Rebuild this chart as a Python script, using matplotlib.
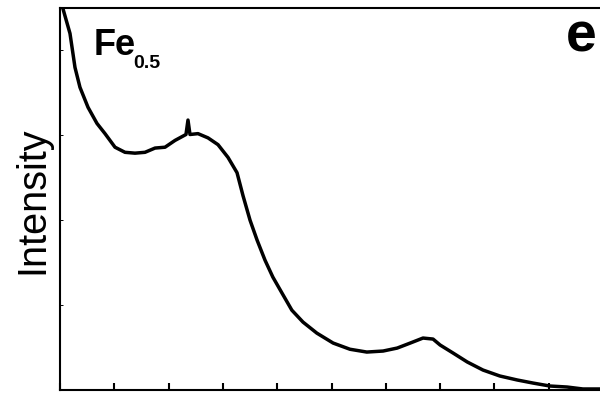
import matplotlib.pyplot as plt

plt.rcParams['font.family'] = ['Liberation Sans', 'DejaVu Sans']

# curve (x: 0..10 tick units, y: 0..4.5)
two_theta = [-0.02, 0.055, 0.184, 0.276, 0.368, 0.516, 0.681, 0.829, 1.013, 1.197,
             1.381, 1.565, 1.750, 1.934, 2.118, 2.320, 2.357, 2.394, 2.541, 2.726,
             2.910, 3.094, 3.26, 3.37, 3.50, 3.63, 3.775, 3.92, 4.09, 4.27,
             4.475, 4.73, 5.03, 5.34, 5.65, 5.95, 6.21, 6.45, 6.685, 6.87,
             7.00, 7.24, 7.50, 7.79, 8.10, 8.42, 8.71, 9.02, 9.34, 9.63, 9.94, 10.1]
intensity = [4.65, 4.49, 4.20, 3.80, 3.565, 3.33, 3.14, 3.02, 2.86, 2.80,
             2.79, 2.80, 2.85, 2.86, 2.94, 3.01, 3.18, 3.01, 3.02, 2.97,
             2.89, 2.74, 2.56, 2.29, 2.00, 1.765, 1.53, 1.33, 1.14, 0.94,
             0.80, 0.67, 0.553, 0.48, 0.447, 0.459, 0.494, 0.553, 0.612, 0.60,
             0.53, 0.435, 0.33, 0.235, 0.165, 0.118, 0.082, 0.047, 0.035, 0.012, 0.012, 0.01]

x_ticks = list(range(0, 11))
y_ticks = [1, 2, 3, 4]

fig = plt.figure(figsize=(6, 3.98), dpi=100)
ax = fig.add_axes([60 / 600, 8 / 398, 543 / 600, 382 / 398])

ax.plot(two_theta, intensity, color='black', lw=2.5)

ax.set_xlim(0, 10)
ax.set_ylim(0, 4.5)
ax.set_xticks(x_ticks)
ax.set_yticks(y_ticks)
ax.set_xticklabels([])
ax.set_yticklabels([])
ax.tick_params(axis='x', direction='in', length=5, width=1.5, top=False)
ax.tick_params(axis='y', direction='in', length=2, width=0.7, right=True)
for s in ax.spines.values():
    s.set_linewidth(1.5)

fig.text(32 / 600, 0.496, 'Intensity', rotation=90, ha='center', va='center', fontsize=28.5)
fig.text(94 / 600, 1 - 55 / 398, 'Fe', fontsize=26, fontweight='bold', va='baseline')
fig.text(133 / 600, 1 - 68 / 398, '0.5', fontsize=14, fontweight='bold', va='baseline')
fig.text(566 / 600, 1 - 52 / 398, 'e', fontsize=40, fontweight='bold', va='baseline')

fig.savefig('out.png', dpi=100)
